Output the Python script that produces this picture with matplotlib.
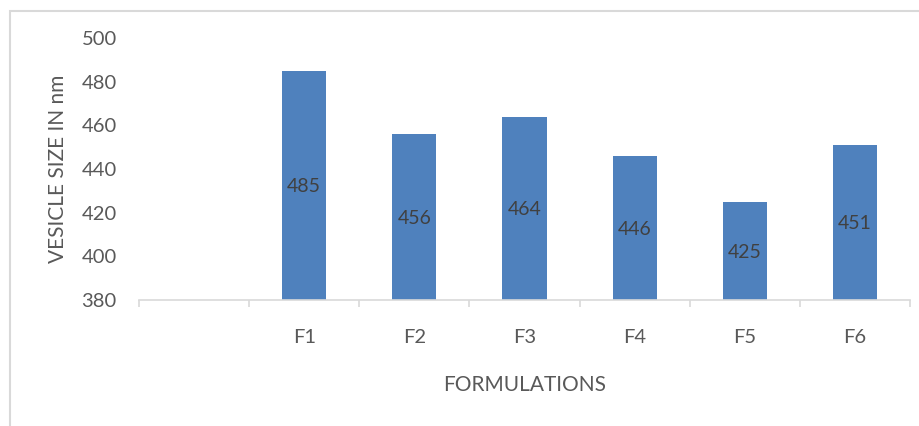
import numpy as np
import matplotlib.pyplot as plt
from matplotlib.patches import Rectangle

# vesicle size per formulation (nm)
formulations = ["F1", "F2", "F3", "F4", "F5", "F6"]
vesicle_size = [485, 456, 464, 446, 425, 451]
y_ticks = [380, 400, 420, 440, 460, 480, 500]

BAR = "#4F81BD"
TEXT = "#595959"
LINE = "#D9D9D9"

plt.rcParams["font.family"] = ["Lato", "DejaVu Sans"]

fig = plt.figure(figsize=(9.2, 4.26), dpi=100)
W, H = 920, 426
ax = fig.add_axes([139 / W, 1 - 300 / H, (910 - 139) / W, (300 - 38) / H])

# the source chart leaves one empty category slot before F1
x = np.arange(len(formulations))
bars = ax.bar(x, [v - y_ticks[0] for v in vesicle_size], bottom=y_ticks[0],
              width=0.4, color=BAR, zorder=2)
labels = ax.bar_label(bars, labels=[str(v) for v in vesicle_size], label_type="center",
                      fontsize=14, color="#404040")
for t in labels:
    t.set_y(t.get_position()[1] - 1)

ax.set_xlim(-1.5, len(formulations) - 0.5)
ax.set_ylim(y_ticks[0], y_ticks[-1])

# category boundaries carry the tick marks, names sit at the centres
ax.set_xticks(np.arange(-1.5, len(formulations), 1.0))
ax.set_xticklabels([])
ax.set_xticks(x, minor=True)
ax.set_xticklabels(formulations, minor=True)
ax.tick_params(axis="x", which="major", length=5, width=1.2, color=LINE)
ax.tick_params(axis="x", which="minor", length=0, pad=21, labelsize=14.5, labelcolor=TEXT)

ax.set_yticks(y_ticks)
ax.tick_params(axis="y", length=0, pad=16, labelsize=14.5, labelcolor=TEXT)

for side in ("top", "right", "left"):
    ax.spines[side].set_visible(False)
ax.spines["bottom"].set_color(LINE)
ax.spines["bottom"].set_linewidth(1.2)

ax.set_xlabel("FORMULATIONS", fontsize=15, color=TEXT, labelpad=21)
ax.set_ylabel("VESICLE SIZE IN nm", fontsize=15, color=TEXT, labelpad=10)

# outer chart-area border, cut off on the right and bottom like the source
fig.patches.append(Rectangle((10 / W, -0.1), 1.0, 1.1 - 11 / H,
                             transform=fig.transFigure, fill=False,
                             edgecolor=LINE, linewidth=1.5))

fig.savefig("out.png", dpi=100)
